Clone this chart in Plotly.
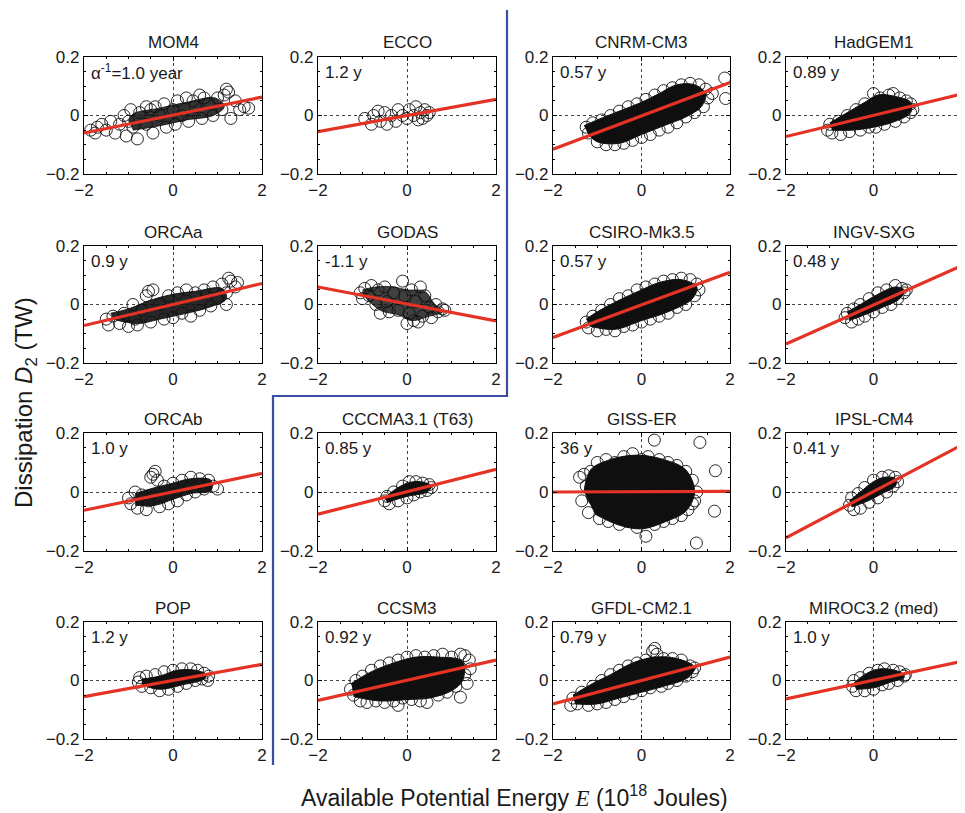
import plotly.graph_objects as go

# ---------------- data ----------------
names = ["MOM4", "ECCO", "CNRM-CM3", "HadGEM1",
         "ORCAa", "GODAS", "CSIRO-Mk3.5", "INGV-SXG",
         "ORCAb", "CCCMA3.1 (T63)", "GISS-ER", "IPSL-CM4",
         "POP", "CCSM3", "GFDL-CM2.1", "MIROC3.2 (med)"]

tau_labels = ["α<sup>-1</sup>=1.0 year", "1.2 y", "0.57 y", "0.89 y",
              "0.9 y", "-1.1 y", "0.57 y", "0.48 y",
              "1.0 y", "0.85 y", "36 y", "0.41 y",
              "1.2 y", "0.92 y", "0.79 y", "1.0 y"]

# regression line: E values and D values at the two ends
line_x = [-2, 2]
line_left = [-0.060, -0.055, -0.115, -0.072,
             -0.072, 0.060, -0.113, -0.135,
             -0.062, -0.075, 0.000, -0.155,
             -0.055, -0.068, -0.080, -0.063]
line_right = [0.063, 0.055, 0.113, 0.073,
              0.072, -0.056, 0.110, 0.132,
              0.063, 0.077, 0.002, 0.158,
              0.055, 0.070, 0.080, 0.065]

# dense core of each cloud (outline of the solid-black region), (E, D) pairs
core = [
    [(-0.9, -0.05), (-0.3, -0.035), (0.3, -0.015), (0.9, 0.0), (1.15, 0.03), (0.95, 0.06),
     (0.3, 0.045), (-0.3, 0.025), (-0.9, 0.005), (-1.0, -0.02)],
    [],
    [(-1.2, -0.065), (-1.0, -0.09), (-0.5, -0.095), (0.0, -0.065), (0.5, -0.035), (1.0, -0.005),
     (1.35, 0.03), (1.45, 0.075), (1.2, 0.105), (0.8, 0.105), (0.4, 0.075), (0.0, 0.045),
     (-0.5, 0.015), (-1.0, -0.015), (-1.3, -0.035)],
    [(-0.95, -0.05), (-0.5, -0.05), (0.0, -0.04), (0.5, -0.02), (0.85, 0.01), (0.85, 0.045),
     (0.5, 0.065), (0.1, 0.07), (-0.2, 0.045), (-0.6, 0.01), (-1.0, -0.025)],
    [(-1.35, -0.05), (-0.8, -0.065), (-0.3, -0.05), (0.3, -0.03), (0.8, -0.01), (1.2, 0.02),
     (1.1, 0.055), (0.5, 0.045), (0.0, 0.035), (-0.5, 0.015), (-1.0, -0.015), (-1.4, -0.03)],
    [(-1.0, 0.035), (-0.6, -0.02), (-0.2, -0.035), (0.1, -0.055), (0.5, -0.04), (0.8, -0.025),
     (0.6, 0.005), (0.4, 0.045), (0.0, 0.05), (-0.3, 0.06), (-0.7, 0.06), (-1.0, 0.05)],
    [(-1.15, -0.075), (-0.6, -0.085), (0.0, -0.055), (0.6, -0.025), (1.15, 0.02), (1.25, 0.06),
     (0.9, 0.085), (0.4, 0.075), (0.0, 0.05), (-0.5, 0.015), (-1.0, -0.025), (-1.25, -0.05)],
    [(-0.55, -0.055), (-0.2, -0.035), (0.2, -0.01), (0.6, 0.02), (0.7, 0.05), (0.5, 0.06),
     (0.1, 0.035), (-0.3, 0.0), (-0.6, -0.025)],
    [(-0.85, -0.045), (-0.4, -0.045), (0.0, -0.025), (0.4, -0.005), (0.85, 0.005), (0.85, 0.04),
     (0.4, 0.045), (0.0, 0.03), (-0.4, 0.015), (-0.85, -0.005)],
    [(-0.45, -0.035), (0.0, -0.015), (0.45, 0.0), (0.55, 0.02), (0.3, 0.035), (0.0, 0.03),
     (-0.3, 0.005), (-0.5, -0.02)],
    [(-1.3, 0.0), (-1.15, 0.075), (-0.7, 0.11), (-0.1, 0.125), (0.5, 0.11), (1.0, 0.075),
     (1.2, 0.0), (1.0, -0.065), (0.55, -0.1), (0.0, -0.125), (-0.55, -0.11), (-1.05, -0.075)],
    [(-0.5, -0.05), (-0.2, -0.035), (0.2, -0.005), (0.5, 0.02), (0.5, 0.045), (0.25, 0.05),
     (0.0, 0.035), (-0.3, 0.0), (-0.55, -0.03)],
    [(-0.7, -0.015), (-0.3, -0.03), (0.2, -0.015), (0.7, 0.005), (0.75, 0.02), (0.5, 0.035),
     (0.1, 0.035), (-0.3, 0.015), (-0.7, 0.005)],
    [(-1.2, -0.055), (-0.6, -0.07), (0.0, -0.065), (0.5, -0.06), (1.0, -0.035), (1.25, 0.0),
     (1.25, 0.065), (0.7, 0.08), (0.2, 0.08), (-0.3, 0.06), (-0.8, 0.03), (-1.25, -0.01)],
    [(-1.5, -0.08), (-1.0, -0.08), (-0.5, -0.06), (0.0, -0.04), (0.5, -0.02), (1.05, 0.01),
     (1.2, 0.045), (0.8, 0.075), (0.3, 0.08), (-0.2, 0.06), (-0.7, 0.02), (-1.1, -0.01),
     (-1.55, -0.05)],
    [(-0.4, -0.03), (0.0, -0.025), (0.4, -0.005), (0.7, 0.01), (0.65, 0.025), (0.3, 0.04),
     (0.0, 0.035), (-0.3, 0.01), (-0.45, -0.01)],
]
core_opacity = [0.85, 0, 1, 1, 0.9, 0.8, 1, 1, 0.95, 1, 1, 1, 1, 1, 1, 1]

# individual circles visible around each cloud, (E, D) pairs
pts = [
    [(-1.85, -0.05), (-1.75, -0.06), (-1.6, -0.03), (-1.5, -0.05), (-1.4, -0.02), (-1.3, -0.06),
     (-1.2, -0.03), (-1.1, 0.0), (-1.05, -0.07), (-0.95, 0.02), (-0.9, -0.04), (-0.8, -0.08),
     (-0.75, 0.01), (-0.6, -0.03), (-0.5, 0.02), (-0.45, -0.06), (-0.3, 0.0), (-0.2, 0.04),
     (-0.15, -0.04), (0.0, 0.02), (0.05, -0.03), (0.1, 0.05), (0.2, 0.0), (0.3, 0.06),
     (0.35, -0.02), (0.5, 0.03), (0.6, 0.07), (0.65, -0.01), (0.8, 0.04), (0.9, 0.0),
     (1.0, 0.06), (1.1, 0.02), (1.2, 0.09), (1.25, 0.08), (1.3, -0.01), (1.4, 0.05),
     (1.5, 0.02), (1.6, 0.03), (1.7, 0.025), (-1.0, -0.02), (0.7, 0.06), (-0.6, 0.03),
     (-1.7, -0.04), (-0.4, 0.03), (0.45, 0.05), (1.15, 0.07)],
    [(-0.95, -0.01), (-0.8, -0.03), (-0.75, 0.0), (-0.6, -0.02), (-0.5, 0.01), (-0.45, -0.03),
     (-0.35, 0.0), (-0.25, -0.02), (-0.2, 0.02), (-0.1, 0.0), (0.0, -0.01), (0.05, 0.02),
     (0.15, 0.0), (0.2, 0.03), (0.25, -0.015), (0.3, 0.01), (0.4, 0.02), (0.45, 0.0),
     (0.5, 0.01), (-0.65, 0.015), (0.35, -0.01)],
    [(-1.25, -0.04), (-1.2, -0.06), (-1.1, -0.025), (-1.0, -0.09), (-0.9, -0.015), (-0.8, -0.1),
     (-0.7, 0.0), (-0.6, -0.1), (-0.5, 0.015), (-0.4, -0.095), (-0.3, 0.03), (-0.2, -0.085),
     (-0.1, 0.04), (0.0, -0.075), (0.1, 0.055), (0.2, -0.065), (0.3, 0.07), (0.4, -0.05),
     (0.5, 0.085), (0.6, -0.04), (0.7, 0.095), (0.8, -0.025), (0.9, 0.105), (1.0, -0.005),
     (1.1, 0.11), (1.2, 0.01), (1.3, 0.105), (1.4, 0.03), (1.45, 0.09), (1.5, 0.06),
     (1.88, 0.128), (1.9, 0.058), (1.6, 0.075)],
    [(-1.05, -0.05), (-1.0, -0.03), (-0.95, -0.06), (-0.8, -0.02), (-0.75, -0.065), (-0.6, 0.0),
     (-0.55, -0.055), (-0.4, 0.02), (-0.3, -0.05), (-0.2, 0.04), (-0.1, -0.04), (0.0, 0.075),
     (0.05, -0.04), (0.15, 0.06), (0.25, -0.03), (0.35, 0.07), (0.45, 0.075), (0.5, -0.02),
     (0.6, 0.06), (0.7, -0.005), (0.75, 0.05), (0.85, 0.04), (0.9, 0.02), (0.85, 0.01)],
    [(-1.5, -0.05), (-1.45, -0.07), (-1.35, -0.04), (-1.2, -0.065), (-1.1, -0.03), (-1.0, -0.075),
     (-0.9, 0.0), (-0.8, -0.07), (-0.7, -0.02), (-0.6, 0.03), (-0.5, -0.06), (-0.45, 0.05),
     (-0.3, 0.0), (-0.2, -0.05), (-0.1, 0.03), (0.0, -0.045), (0.1, 0.04), (0.2, -0.03),
     (0.3, 0.05), (0.4, -0.04), (0.5, 0.04), (0.6, -0.02), (0.7, 0.05), (0.85, -0.005),
     (0.9, 0.06), (1.0, 0.02), (1.1, 0.07), (1.2, 0.04), (1.25, 0.09), (1.3, 0.08),
     (1.4, 0.06), (1.45, 0.075), (1.2, 0.0), (-0.55, 0.045), (-0.85, -0.05)],
    [(-1.05, 0.04), (-1.0, 0.02), (-0.95, 0.055), (-0.85, 0.03), (-0.8, 0.065), (-0.7, 0.0),
     (-0.65, 0.05), (-0.6, -0.03), (-0.5, 0.06), (-0.45, 0.01), (-0.4, -0.025), (-0.3, 0.04),
     (-0.2, -0.02), (-0.1, 0.08), (-0.05, 0.03), (0.0, -0.065), (0.05, -0.03), (0.1, 0.05),
     (0.15, -0.055), (0.2, 0.01), (0.3, 0.06), (0.35, -0.04), (0.4, 0.03), (0.5, -0.01),
     (0.55, -0.045), (0.65, 0.0), (0.7, -0.025), (0.8, -0.015), (0.85, -0.02), (0.25, -0.06)],
    [(-1.25, -0.06), (-1.2, -0.08), (-1.1, -0.04), (-1.0, -0.09), (-0.9, -0.02), (-0.8, -0.085),
     (-0.7, 0.0), (-0.6, -0.09), (-0.5, 0.02), (-0.4, -0.075), (-0.3, 0.03), (-0.2, -0.07),
     (-0.1, 0.05), (0.0, -0.06), (0.1, 0.06), (0.2, -0.05), (0.3, 0.07), (0.4, -0.04),
     (0.5, 0.08), (0.6, -0.03), (0.7, 0.085), (0.8, -0.01), (0.9, 0.09), (1.0, 0.0),
     (1.1, 0.085), (1.2, 0.03), (1.25, 0.07), (1.3, 0.05)],
    [(-0.65, -0.045), (-0.6, -0.03), (-0.5, -0.06), (-0.45, -0.015), (-0.35, -0.05), (-0.3, 0.0),
     (-0.2, -0.04), (-0.1, 0.02), (0.0, -0.025), (0.1, 0.04), (0.2, -0.01), (0.3, 0.05),
     (0.4, 0.0), (0.5, 0.065), (0.55, 0.02), (0.65, 0.055), (0.7, 0.04), (0.75, 0.05)],
    [(-1.0, -0.02), (-0.95, -0.04), (-0.85, 0.0), (-0.8, -0.055), (-0.7, -0.01), (-0.6, -0.06),
     (-0.5, 0.05), (-0.45, 0.06), (-0.4, 0.07), (-0.35, 0.04), (-0.3, -0.05), (-0.2, 0.02),
     (-0.1, -0.04), (0.0, 0.03), (0.1, -0.03), (0.2, 0.04), (0.3, -0.01), (0.4, 0.05),
     (0.5, 0.0), (0.6, 0.045), (0.7, 0.01), (0.8, 0.04), (0.9, 0.02), (1.0, 0.01), (-0.55, -0.03)],
    [(-0.5, -0.03), (-0.45, -0.015), (-0.4, -0.04), (-0.3, 0.0), (-0.2, -0.03), (-0.1, 0.02),
     (0.0, -0.02), (0.05, 0.035), (0.15, -0.01), (0.2, 0.035), (0.3, 0.0), (0.35, 0.03),
     (0.45, 0.005), (0.5, 0.025), (0.55, 0.015)],
    [(-1.4, 0.05), (-1.35, -0.03), (-1.25, 0.02), (-1.2, -0.07), (-1.15, 0.07), (-1.1, -0.02),
     (-1.0, 0.1), (-0.95, -0.09), (-0.8, 0.11), (-0.75, -0.1), (-0.6, 0.1), (-0.5, -0.11),
     (-0.4, 0.12), (-0.3, -0.1), (-0.2, 0.13), (-0.1, -0.12), (0.0, 0.11), (0.1, -0.15),
     (0.15, 0.12), (0.29, 0.176), (0.3, -0.11), (0.4, 0.11), (0.5, -0.1), (0.6, 0.1),
     (0.7, -0.09), (0.8, 0.09), (0.9, -0.08), (1.0, 0.07), (1.05, -0.06), (1.15, 0.04),
     (1.2, -0.03), (1.25, 0.0), (1.15, -0.04), (1.32, 0.168), (1.67, 0.072), (1.65, -0.065),
     (1.24, -0.173), (-1.3, 0.06), (-1.05, 0.04)],
    [(-0.55, -0.045), (-0.5, -0.02), (-0.45, -0.06), (-0.35, -0.005), (-0.3, -0.055), (-0.2, 0.015),
     (-0.1, -0.035), (0.0, 0.04), (0.1, -0.02), (0.2, 0.05), (0.3, 0.0), (0.35, 0.055),
     (0.45, 0.02), (0.5, 0.05), (0.55, 0.035)],
    [(-0.78, -0.005), (-0.75, 0.01), (-0.7, -0.02), (-0.6, 0.015), (-0.5, -0.025), (-0.4, 0.02),
     (-0.3, -0.035), (-0.2, 0.03), (-0.1, -0.03), (0.0, 0.035), (0.1, -0.02), (0.2, 0.04),
     (0.3, -0.01), (0.4, 0.04), (0.5, 0.0), (0.55, 0.035), (0.65, 0.005), (0.7, 0.025),
     (0.8, 0.015), (0.78, 0.0)],
    [(-1.27, -0.03), (-1.2, -0.05), (-1.15, 0.0), (-1.05, -0.07), (-1.0, 0.015), (-0.9, -0.075),
     (-0.8, 0.035), (-0.7, -0.07), (-0.6, 0.05), (-0.5, -0.075), (-0.4, 0.06), (-0.3, -0.07),
     (-0.2, 0.07), (-0.2, -0.085), (-0.1, -0.06), (0.0, 0.08), (0.1, -0.065), (0.2, 0.085),
     (0.3, -0.07), (0.4, 0.08), (0.45, -0.075), (0.6, 0.085), (0.7, -0.05), (0.8, 0.09),
     (0.9, -0.04), (1.0, 0.08), (1.1, -0.02), (1.2, 0.09), (1.2, -0.057), (1.3, 0.085),
     (1.3, 0.02), (1.4, 0.07), (1.42, 0.04), (1.35, -0.01)],
    [(-1.6, -0.085), (-1.55, -0.06), (-1.45, -0.08), (-1.35, -0.04), (-1.2, -0.085), (-1.1, -0.02),
     (-1.0, -0.08), (-0.9, 0.0), (-0.8, -0.075), (-0.7, 0.02), (-0.6, -0.065), (-0.5, 0.035),
     (-0.4, -0.055), (-0.3, 0.05), (-0.2, -0.045), (-0.1, 0.06), (0.0, -0.035), (0.1, 0.07),
     (0.2, -0.025), (0.25, 0.1), (0.3, 0.11), (0.35, 0.09), (0.45, -0.02), (0.5, 0.075),
     (0.6, -0.01), (0.7, 0.075), (0.8, 0.0), (0.9, 0.07), (1.0, 0.015), (1.1, 0.05),
     (1.2, 0.043), (1.15, 0.03)],
    [(-0.48, -0.02), (-0.45, 0.0), (-0.4, -0.035), (-0.3, 0.01), (-0.2, -0.035), (-0.1, 0.025),
     (0.0, -0.03), (0.1, 0.035), (0.2, -0.015), (0.25, 0.04), (0.35, -0.01), (0.45, 0.035),
     (0.55, 0.0), (0.6, 0.03), (0.7, 0.015), (0.73, 0.02)],
]

x_ticks = [-2, 0, 2]
x_ticktext = ["\u22122", "0", "2"]
y_ticks = [-0.2, 0, 0.2]
y_ticktext = ["\u22120.2", "0", "0.2"]

# ---------------- layout geometry (screen pixels) ----------------
W, H = 965, 813
OX, OY = 8, 8          # page body margin in front of the figure
col_px = [(84, 262), (318, 496), (553, 730), (786, 961)]
row_px = [(57, 174), (246, 363), (433, 551), (622, 739)]
FONT = "Liberation Sans, Arial, Helvetica, sans-serif"


def fx(px):
    return (px - OX) / W


def fy(py):
    return 1 - (py - OY) / H


fig = go.Figure()
annotations = []

for i in range(16):
    r, c = divmod(i, 4)
    ax = "" if i == 0 else str(i + 1)
    xa, ya = "x" + ax, "y" + ax
    l, rr = col_px[c]
    t, b = row_px[r]

    if core[i]:
        cx = [p[0] for p in core[i]]
        cy = [p[1] for p in core[i]]
        fig.add_trace(go.Scatter(
            x=cx, y=cy, mode="lines", fill="toself",
            fillcolor="rgba(15,15,15,%.2f)" % core_opacity[i],
            line=dict(color="rgba(15,15,15,%.2f)" % core_opacity[i], width=1, shape="spline"),
            xaxis=xa, yaxis=ya, showlegend=False, hoverinfo="skip"))
    px_ = [p[0] for p in pts[i]]
    py_ = [p[1] for p in pts[i]]
    fig.add_trace(go.Scatter(
        x=px_, y=py_, mode="markers",
        marker=dict(symbol="circle-open", size=12, color="#111111", line=dict(width=0.9)),
        xaxis=xa, yaxis=ya, showlegend=False, hoverinfo="skip"))
    fig.add_trace(go.Scatter(
        x=line_x, y=[line_left[i], line_right[i]], mode="lines",
        line=dict(color="#e43225", width=3.2),
        xaxis=xa, yaxis=ya, showlegend=False, hoverinfo="skip"))

    axis_common = dict(showline=True, linecolor="black", linewidth=1.2, mirror="allticks",
                       ticks="inside", ticklen=4, tickcolor="black", automargin=False,
                       showgrid=True, gridcolor="#444444", griddash="dot", gridwidth=1,
                       zeroline=False, tickfont=dict(family=FONT, size=17, color="#1a1a1a"))
    fig.layout["xaxis" + ax] = dict(
        domain=[fx(l), fx(rr)], range=[-2, 2], anchor=ya,
        tickvals=x_ticks, ticktext=x_ticktext,
        minor=dict(ticks="inside", ticklen=2, dtick=0.5, tickcolor="black"),
        **axis_common)
    fig.layout["yaxis" + ax] = dict(
        domain=[fy(b), fy(t)], range=[-0.2, 0.2], anchor=xa,
        tickvals=y_ticks, ticktext=y_ticktext,
        minor=dict(ticks="inside", ticklen=2, dtick=0.05, tickcolor="black"),
        **axis_common)

    annotations.append(dict(
        x=fx((l + rr) / 2), y=fy(t - 14), xref="paper", yref="paper",
        text=names[i], showarrow=False, xanchor="center", yanchor="middle",
        font=dict(family=FONT, size=17, color="#1a1a1a")))
    annotations.append(dict(
        x=fx(l + 5), y=fy(t + 15), xref="paper", yref="paper",
        text=tau_labels[i], showarrow=False, xanchor="left", yanchor="middle",
        font=dict(family=FONT, size=17, color="#1a1a1a")))

annotations.append(dict(
    x=fx(515), y=fy(796), xref="paper", yref="paper",
    text="Available Potential Energy <span style=\"font-family:'Liberation Serif'\"><i>E</i></span> (10<sup>18</sup> Joules)",
    showarrow=False, xanchor="center", yanchor="middle",
    font=dict(family=FONT, size=23, color="#1a1a1a")))
annotations.append(dict(
    x=fx(25), y=fy(403), xref="paper", yref="paper",
    text="Dissipation <i>D</i><sub>2</sub> (TW)", textangle=-90,
    showarrow=False, xanchor="center", yanchor="middle",
    font=dict(family=FONT, size=24, color="#1a1a1a")))

# blue divider separating the groups of panels
divider_path = "M {x1} {y0} L {x1} {y1} L {x2} {y1} L {x2} {y2}".format(
    x1=fx(507), y0=fy(10), y1=fy(396), x2=fx(273), y2=fy(765))
fig.update_layout(
    shapes=[dict(type="path", path=divider_path, xref="paper", yref="paper",
                 line=dict(color="#3a4ea6", width=2.2))],
    annotations=annotations,
    width=W, height=H, margin=dict(l=0, r=0, t=0, b=0, pad=0, autoexpand=False),
    paper_bgcolor="white", plot_bgcolor="white",
    font=dict(family=FONT, color="#1a1a1a"),
)

fig.write_html("out.html")
